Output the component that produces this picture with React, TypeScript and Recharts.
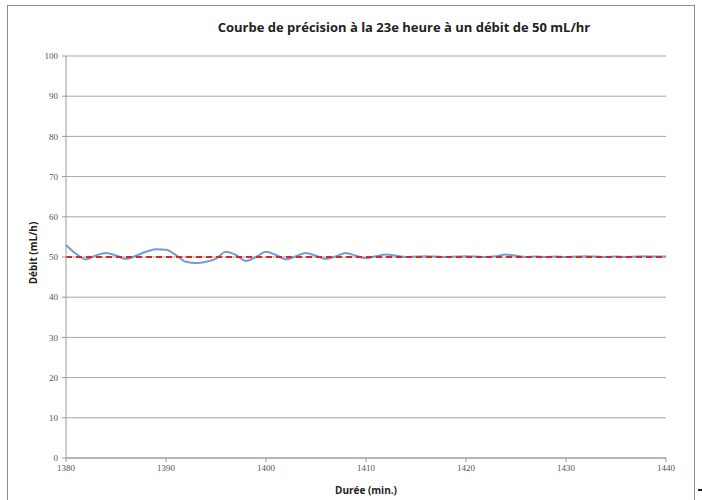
import React from "react";
import { LineChart, Line, XAxis, YAxis, CartesianGrid, Label } from "recharts";

const minutes = [
  1380, 1381, 1382, 1383, 1384, 1385, 1386, 1387, 1388, 1389, 1390,
  1391, 1392, 1393, 1394, 1395, 1396, 1397, 1398, 1399, 1400,
  1401, 1402, 1403, 1404, 1405, 1406, 1407, 1408, 1409, 1410,
  1411, 1412, 1413, 1414, 1415, 1416, 1417, 1418, 1419, 1420,
  1421, 1422, 1423, 1424, 1425, 1426, 1427, 1428, 1429, 1430,
  1431, 1432, 1433, 1434, 1435, 1436, 1437, 1438, 1439, 1440,
];
const debit = [
  53.0, 50.8, 49.4, 50.4, 51.0, 50.4, 49.5, 50.3, 51.3, 51.9, 51.8,
  50.5, 48.8, 48.5, 48.8, 49.6, 51.3, 50.5, 49.0, 50.0, 51.3,
  50.5, 49.4, 50.2, 51.0, 50.3, 49.5, 50.2, 51.0, 50.3, 49.7,
  50.2, 50.6, 50.3, 50.0, 50.1, 50.2, 50.1, 50.0, 50.1, 50.2,
  50.1, 50.0, 50.2, 50.6, 50.3, 50.0, 50.1, 50.0, 50.1, 50.0,
  50.1, 50.2, 50.1, 50.0, 50.1, 50.0, 50.1, 50.2, 50.1, 50.1,
];
const cible = minutes.map(() => 50);

const xTicks = [1380, 1390, 1400, 1410, 1420, 1430, 1440];
const yTicks = [0, 10, 20, 30, 40, 50, 60, 70, 80, 90, 100];

const data = minutes.map((m, i) => ({ m, debit: debit[i], cible: cible[i] }));

const tickStyle = { fontFamily: "'Liberation Serif', serif", fontSize: 9, fill: "#555" };
const labelFont = "'Open Sans', sans-serif";

export default function App() {
  return (
    <div style={{ position: "absolute", left: 0, top: 0, width: 702, height: 500, background: "#fff" }}>
      <div
        style={{
          position: "absolute",
          left: 7,
          top: 5,
          width: 688,
          height: 500,
          border: "1px solid #8c8c8c",
          boxSizing: "border-box",
        }}
      />
      <div
        style={{
          position: "absolute",
          left: 698,
          top: 489,
          width: 4,
          height: 2,
          background: "#222",
        }}
      />
      <div
        style={{
          position: "absolute",
          left: 0,
          width: 808,
          top: 18,
          textAlign: "center",
          fontFamily: labelFont,
          fontWeight: "bold",
          fontSize: 13,
          color: "#222",
          lineHeight: "18px",
        }}
      >
        Courbe de précision à la 23e heure à un débit de 50 mL/hr
      </div>
      <div style={{ position: "absolute", left: 0, top: 0 }}>
        <LineChart width={702} height={500} data={data} margin={{ top: 56, right: 36, bottom: 12, left: 20 }}>
          <CartesianGrid vertical={false} stroke="#a6a6a6" strokeWidth={1} />
          <XAxis
            dataKey="m"
            type="number"
            domain={[1380, 1440]}
            ticks={xTicks}
            height={30}
            stroke="#9a9a9a"
            tickSize={4}
            tick={tickStyle}
            tickMargin={3}
          >
            <Label
              value="Durée (min.)"
              position="insideBottom"
              offset={-6}
              style={{ fontFamily: labelFont, fontWeight: "bold", fontSize: 10, fill: "#222" }}
            />
          </XAxis>
          <YAxis
            type="number"
            domain={[0, 100]}
            ticks={yTicks}
            width={46}
            stroke="#9a9a9a"
            tickSize={4}
            tick={tickStyle}
            tickMargin={4}
            interval={0}
          >
            <Label
              value="Débit (mL/h)"
              angle={-90}
              position="insideLeft"
              offset={13}
              dy={-4}
              style={{ fontFamily: labelFont, fontWeight: "bold", fontSize: 10, fill: "#222", textAnchor: "middle" }}
            />
          </YAxis>
          <Line
            dataKey="debit"
            type="monotone"
            stroke="#6f9fd2"
            strokeWidth={2}
            dot={false}
            isAnimationActive={false}
          />
          <Line
            dataKey="cible"
            type="linear"
            stroke="#d8262b"
            strokeWidth={2}
            strokeDasharray="6 4"
            dot={false}
            isAnimationActive={false}
          />
        </LineChart>
      </div>
    </div>
  );
}
